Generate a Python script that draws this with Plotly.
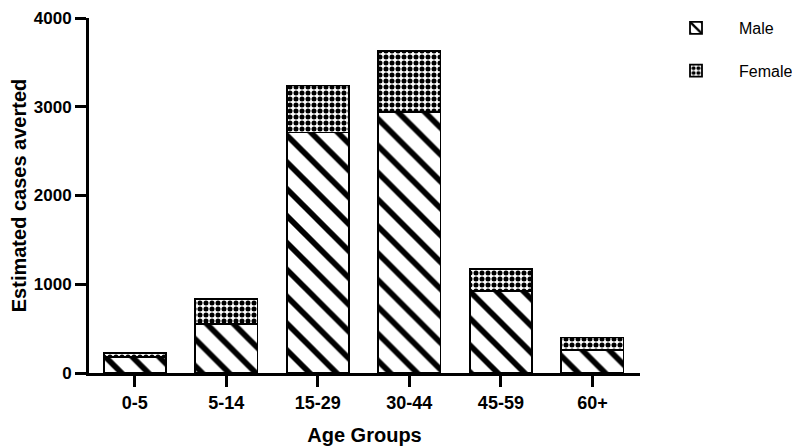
import plotly.graph_objects as go

age_groups = ["0-5", "5-14", "15-29", "30-44", "45-59", "60+"]
male = [180, 550, 2710, 2940, 925, 260]
female = [45, 280, 530, 690, 250, 140]
y_ticks = [0, 1000, 2000, 3000, 4000]

FONT = "Arial, Liberation Sans, sans-serif"

fig = go.Figure()
fig.add_trace(go.Bar(
    x=age_groups, y=male, name="Male", legendgroup="m",
    width=0.68,
    marker=dict(color="white", line=dict(color="black", width=1.8),
                pattern=dict(shape="\\", fgcolor="black", bgcolor="white",
                             size=19, solidity=0.3, fillmode="replace", fgopacity=1)),
))
fig.add_trace(go.Bar(
    x=age_groups, y=female, name="Female", legendgroup="f",
    width=0.68,
    marker=dict(color="white", line=dict(color="black", width=1.8),
                pattern=dict(shape=".", fgcolor="black", bgcolor="white",
                             size=6, solidity=0.55, fillmode="replace", fgopacity=1)),
))

# page body has an 8px margin, so the figure is sized/positioned to compensate
fig.update_layout(
    width=792, height=438,
    barmode="stack",
    plot_bgcolor="white", paper_bgcolor="white",
    margin=dict(l=81, r=160, t=10, b=73, autoexpand=False),
    font=dict(family=FONT, color="black"),
    showlegend=True,
    legend=dict(x=1.0236, y=1.02, xanchor="left", yanchor="top",
                traceorder="grouped", tracegroupgap=19, itemwidth=76,
                font=dict(size=16, family=FONT, color="black"),
                bgcolor="rgba(0,0,0,0)"),
    xaxis=dict(
        range=[-0.5, 5.52],
        showline=True, linecolor="black", linewidth=3,
        ticks="outside", ticklen=11, tickwidth=3, tickcolor="black",
        tickfont=dict(size=18, family=FONT, color="black", weight="bold"),
        ticklabeloverflow="allow",
        title=dict(text="<b>Age Groups</b>", font=dict(size=20, family=FONT), standoff=18),
        showgrid=False, zeroline=False,
    ),
    yaxis=dict(
        range=[0, 4000], tickvals=y_ticks,
        showline=True, linecolor="black", linewidth=3,
        ticks="outside", ticklen=11, tickwidth=3, tickcolor="black",
        tickfont=dict(size=17, family=FONT, color="black", weight="bold"),
        ticklabeloverflow="allow",
        title=dict(text="<b>Estimated cases averted</b>", font=dict(size=20, family=FONT), standoff=9),
        showgrid=False, zeroline=False,
    ),
)

fig.write_html("out.html")
